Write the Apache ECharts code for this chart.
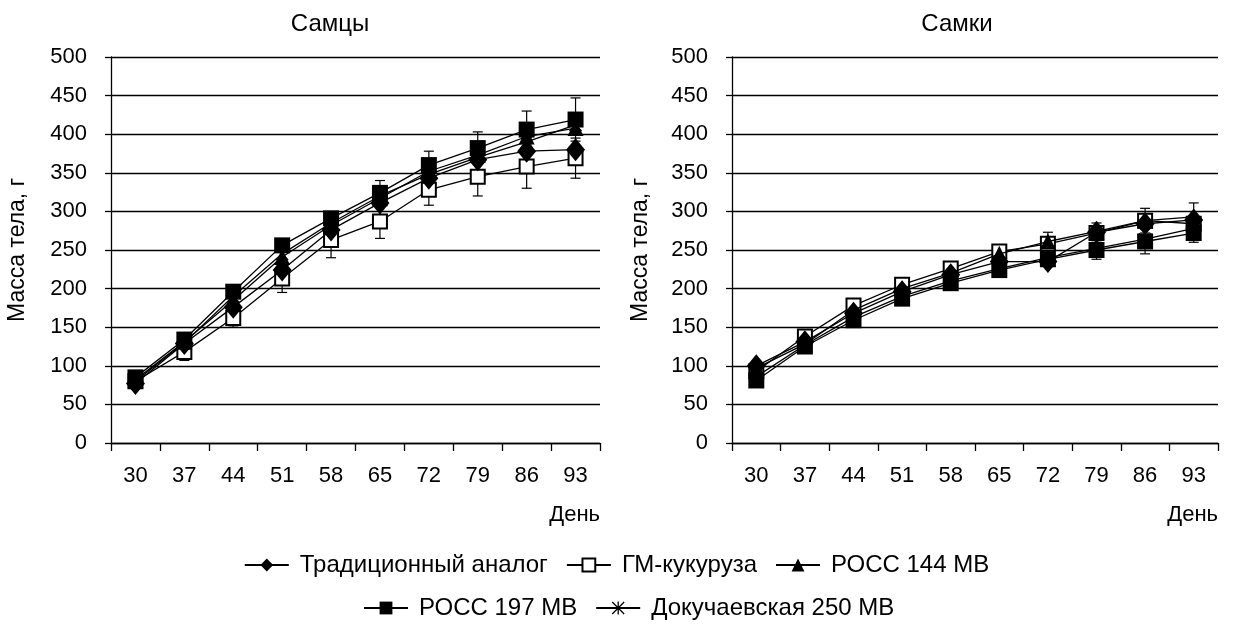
<!DOCTYPE html>
<html>
<head>
<meta charset="utf-8">
<script src="https://cdn.jsdelivr.net/npm/echarts@6/dist/echarts.min.js"></script>
<style>
  html, body { margin: 0; padding: 0; background: #fff; }
  #chart { width: 1233px; height: 625px; }
</style>
</head>
<body>
<div id="chart"></div>
<script>
const days = ['30', '37', '44', '51', '58', '65', '72', '79', '86', '93']
const seriesNames = ['Традиционный аналог', 'ГМ-кукуруза', 'РОСС 144 МВ', 'РОСС 197 МВ', 'Докучаевская 250 МВ']

// Самцы
const maleTrad = [77, 129, 176, 224, 276, 311, 343, 367, 378, 380]
const maleGm = [80, 118, 162, 213, 263, 287, 328, 345, 358, 369]
const male144 = [82, 131, 185, 241, 282, 317, 352, 373, 397, 408]
const male197 = [85, 134, 196, 256, 291, 324, 360, 382, 406, 419]
const male250 = [80, 130, 190, 245, 285, 320, 348, 370, 390, 412]
const maleGmSd = [4, 11, 12, 18, 23, 22, 20, 25, 28, 26]
const male197Sd = [4, 5, 5, 5, 5, 16, 18, 21, 24, 28]

// Самки
const femTrad = [100, 131, 168, 196, 218, 235, 235, 273, 284, 289]
const femGm = [93, 138, 178, 205, 226, 248, 258, 272, 288, 284]
const fem144 = [97, 128, 172, 200, 220, 245, 261, 274, 288, 293]
const fem197 = [81, 125, 159, 187, 207, 224, 238, 250, 261, 272]
const fem250 = [86, 127, 163, 190, 210, 226, 240, 252, 264, 278]
const fem144Sd = [4, 5, 5, 5, 6, 12, 12, 11, 16, 18]
const fem197Sd = [4, 5, 5, 5, 5, 6, 8, 12, 16, 12]

const yTicks = [0, 50, 100, 150, 200, 250, 300, 350, 400, 450, 500]

const font = "'Liberation Sans', Arial, sans-serif"
const starPath = 'path://M4.5 0L5.5 0L5.5 10L4.5 10ZM0 0.7L0.7 0L10 9.3L9.3 10ZM9.3 0L10 0.7L0.7 10L0 9.3Z'

const symbols = ['diamond', 'emptyRect', 'triangle', 'rect', starPath]
const sizes = [[19, 23], 14, 16, 16, 13]
const zs = [9, 4, 5, 6, 7]

function lineSeries(name, idx, data, axisIdx) {
  return {
    name: name,
    type: 'line',
    xAxisIndex: axisIdx,
    yAxisIndex: axisIdx,
    data: data,
    symbol: symbols[idx],
    symbolSize: sizes[idx],
    showAllSymbol: true,
    itemStyle: { color: '#000', borderColor: '#000', borderWidth: idx === 1 ? 1.3 : 0 },
    lineStyle: { color: '#000', width: 1.3 },
    z: zs[idx],
    animation: false
  }
}

function errorSeries(values, sd, axisIdx) {
  return {
    type: 'custom',
    xAxisIndex: axisIdx,
    yAxisIndex: axisIdx,
    data: values.map((v, i) => [i, v - sd[i], v + sd[i]]),
    renderItem: function (params, api) {
      const lo = api.coord([api.value(0), api.value(1)])
      const hi = api.coord([api.value(0), api.value(2)])
      const w = 5
      const st = { stroke: '#000', lineWidth: 1.2 }
      return {
        type: 'group',
        children: [
          { type: 'line', shape: { x1: lo[0], y1: lo[1], x2: hi[0], y2: hi[1] }, style: st },
          { type: 'line', shape: { x1: lo[0] - w, y1: lo[1], x2: lo[0] + w, y2: lo[1] }, style: st },
          { type: 'line', shape: { x1: hi[0] - w, y1: hi[1], x2: hi[0] + w, y2: hi[1] }, style: st }
        ]
      }
    },
    z: 2,
    silent: true,
    animation: false
  }
}

function xAxisCfg(gridIdx) {
  return {
    type: 'category',
    gridIndex: gridIdx,
    data: days,
    boundaryGap: true,
    axisLine: { lineStyle: { color: '#000', width: 1.3 } },
    axisTick: { show: true, length: 8, lineStyle: { color: '#000', width: 1.3 } },
    axisLabel: { color: '#000', fontSize: 22, fontFamily: font, margin: 22 },
    name: 'День',
    nameLocation: 'end',
    nameGap: 0,
    nameTextStyle: { color: '#000', fontSize: 22, fontFamily: font, align: 'right', verticalAlign: 'top', padding: [61, 0, 0, 0] }
  }
}

function yAxisCfg(gridIdx, gap) {
  return {
    type: 'value',
    gridIndex: gridIdx,
    min: yTicks[0],
    max: yTicks[yTicks.length - 1],
    interval: 50,
    axisLine: { show: true, lineStyle: { color: '#000', width: 1.3 } },
    axisTick: { show: true, length: 6, lineStyle: { color: '#000', width: 1.3 } },
    axisLabel: { color: '#000', fontSize: 22, fontFamily: font, margin: 24 },
    splitLine: { show: true, lineStyle: { color: '#000', width: 1.3 } },
    name: 'Масса тела, г',
    nameLocation: 'middle',
    nameGap: gap,
    nameTextStyle: { color: '#000', fontSize: 23, fontFamily: font }
  }
}

const legendText = { color: '#000', fontSize: 24, fontFamily: font, padding: [0, 0, 0, 6] }

const chart = echarts.init(document.getElementById('chart'), null, { renderer: 'canvas' })
chart.setOption({
  backgroundColor: '#fff',
  animation: false,
  title: [
    { text: 'Самцы', left: 325, top: 7, textAlign: 'center', textStyle: { color: '#000', fontSize: 24, fontWeight: 'normal', fontFamily: font } },
    { text: 'Самки', left: 952, top: 7, textAlign: 'center', textStyle: { color: '#000', fontSize: 24, fontWeight: 'normal', fontFamily: font } }
  ],
  legend: [
    {
      data: seriesNames.slice(0, 3),
      left: 'center',
      top: 548,
      itemWidth: 44,
      itemHeight: 16,
      itemGap: 18,
      textStyle: legendText
    },
    {
      data: seriesNames.slice(3),
      left: 358,
      top: 591,
      itemWidth: 44,
      itemHeight: 16,
      itemGap: 18,
      textStyle: legendText
    }
  ],
  grid: [
    { left: 111, top: 57, width: 489, height: 386 },
    { left: 732, top: 57, width: 486, height: 386 }
  ],
  xAxis: [xAxisCfg(0), xAxisCfg(1)],
  yAxis: [yAxisCfg(0, 82), yAxisCfg(1, 80)],
  series: [
    errorSeries(maleGm, maleGmSd, 0),
    errorSeries(male197, male197Sd, 0),
    lineSeries(seriesNames[0], 0, maleTrad, 0),
    lineSeries(seriesNames[1], 1, maleGm, 0),
    lineSeries(seriesNames[2], 2, male144, 0),
    lineSeries(seriesNames[3], 3, male197, 0),
    lineSeries(seriesNames[4], 4, male250, 0),
    errorSeries(fem144, fem144Sd, 1),
    errorSeries(fem197, fem197Sd, 1),
    lineSeries(seriesNames[0], 0, femTrad, 1),
    lineSeries(seriesNames[1], 1, femGm, 1),
    lineSeries(seriesNames[2], 2, fem144, 1),
    lineSeries(seriesNames[3], 3, fem197, 1),
    lineSeries(seriesNames[4], 4, fem250, 1)
  ]
})
</script>
</body>
</html>
